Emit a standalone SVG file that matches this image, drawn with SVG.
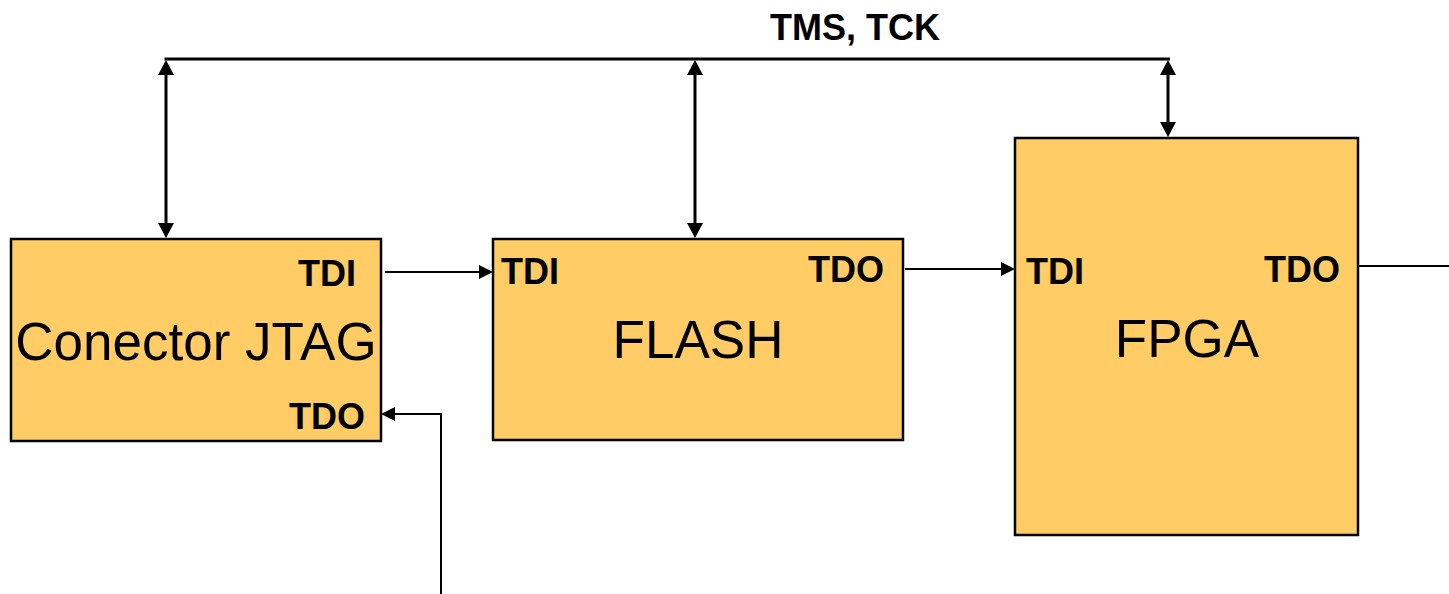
<svg xmlns="http://www.w3.org/2000/svg" width="1449" height="594" viewBox="0 0 1449 594">
  <style>
    .block { fill: #FFCC66; stroke: #000; stroke-width: 2.5; }
    .title { font-family: "Liberation Sans", Arial, sans-serif; font-size: 53px; fill: #000; text-anchor: middle; }
    .pin { font-family: "Liberation Sans", Arial, sans-serif; font-size: 36px; font-weight: bold; fill: #000; }
    .bus { fill: none; stroke: #000; stroke-width: 3; }
    .sig { fill: none; stroke: #000; stroke-width: 2; }
  </style>
  <defs>
    <marker id="busHead" viewBox="0 0 15 16" refX="5" refY="8" markerWidth="15" markerHeight="16" markerUnits="userSpaceOnUse" orient="auto-start-reverse">
      <path d="M0,0 L15,8 L0,16 z" fill="#000"/>
    </marker>
    <marker id="sigHead" viewBox="0 0 14 14" refX="5" refY="7" markerWidth="14" markerHeight="14" markerUnits="userSpaceOnUse" orient="auto">
      <path d="M0,0 L14,7 L0,14 z" fill="#000"/>
    </marker>
  </defs>

  <text class="pin" x="855" y="40" text-anchor="middle">TMS, TCK</text>

  <g id="conector-jtag">
    <rect class="block" x="11" y="239" width="370" height="202"/>
    <text class="title" x="196" y="360">Conector JTAG</text>
    <text class="pin" x="356" y="286" text-anchor="end">TDI</text>
    <text class="pin" x="365" y="429" text-anchor="end">TDO</text>
  </g>

  <g id="flash">
    <rect class="block" x="493" y="239" width="410" height="201"/>
    <text class="title" x="698" y="358">FLASH</text>
    <text class="pin" x="501" y="284">TDI</text>
    <text class="pin" x="884" y="282" text-anchor="end">TDO</text>
  </g>

  <g id="fpga">
    <rect class="block" x="1015" y="138" width="343" height="397"/>
    <text class="title" x="1187" y="357">FPGA</text>
    <text class="pin" x="1026" y="284">TDI</text>
    <text class="pin" x="1340" y="282" text-anchor="end">TDO</text>
  </g>

  <g id="connectors">
    <!-- shared TMS/TCK bus -->
    <line class="bus" x1="164.5" y1="59" x2="1170" y2="59"/>
    <line class="bus" x1="166" y1="70" x2="166" y2="228" marker-start="url(#busHead)" marker-end="url(#busHead)"/>
    <line class="bus" x1="695" y1="70" x2="695" y2="228" marker-start="url(#busHead)" marker-end="url(#busHead)"/>
    <line class="bus" x1="1168" y1="70" x2="1168" y2="127" marker-start="url(#busHead)" marker-end="url(#busHead)"/>

    <!-- scan chain -->
    <line class="sig" x1="385" y1="272" x2="484" y2="272" marker-end="url(#sigHead)"/>
    <line class="sig" x1="905" y1="269" x2="1006" y2="269" marker-end="url(#sigHead)"/>
    <line class="sig" x1="1358" y1="266" x2="1449" y2="266"/>
    <polyline class="sig" points="441,594 441,414 390,414" marker-end="url(#sigHead)"/>
  </g>
</svg>
